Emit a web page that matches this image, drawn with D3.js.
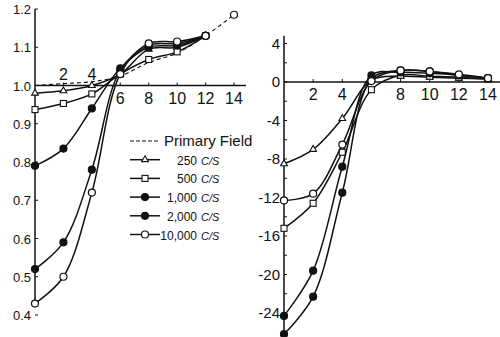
<!DOCTYPE html>
<html>
<head>
<meta charset="utf-8">
<script src="https://cdn.jsdelivr.net/npm/d3@7"></script>
<style>
  body { margin: 0; background: #fff; }
  text { font-family: "Liberation Sans", Arial, sans-serif; fill: #111; }
</style>
</head>
<body>
<div id="chart"></div>
<script>
// distances (x values)
var xs = [0, 2, 4, 6, 8, 10, 12];
var xsR = [0, 2, 4, 6, 8, 10, 12, 14];

// left panel: amplitude ratio
var primaryX = [0, 2, 4, 6, 8, 10, 12, 14];
var primary = [1.0, 1.005, 1.01, 1.025, 1.06, 1.085, 1.13, 1.185];
var amp250 = [0.98, 0.986, 1.0, 1.03, 1.095, 1.10, 1.13];
var amp500 = [0.937, 0.953, 0.978, 1.03, 1.068, 1.088, 1.13];
var amp1000 = [0.79, 0.835, 0.94, 1.045, 1.10, 1.105, 1.13];
var amp2000 = [0.52, 0.59, 0.78, 1.04, 1.105, 1.11, 1.13];
var amp10000 = [0.43, 0.50, 0.72, 1.03, 1.11, 1.115, 1.13];

// right panel: phase (degrees)
var ph250 = [-8.5, -7, -3.8, 0.2, 0.6, 0.5, 0.4, 0.3];
var ph500 = [-15.2, -12.6, -7.3, -0.8, 0.7, 0.6, 0.5, 0.3];
var ph1000 = [-24.3, -19.6, -8.8, 0.7, 1.0, 0.9, 0.7, 0.4];
var ph2000 = [-26.2, -22.3, -11.5, 0.3, 1.2, 1.1, 0.7, 0.4];
var ph10000 = [-12.3, -11.6, -6.5, 0.1, 1.2, 1.1, 0.8, 0.4];

var seriesNames = ["250", "500", "1,000", "2,000", "10,000"];
var markers = ["triangle", "square", "filled", "filled", "open"];

var leftTicks = [0.4, 0.5, 0.6, 0.7, 0.8, 0.9, 1.0, 1.1, 1.2];
var leftXTicks = [2, 4, 6, 8, 10, 12, 14];
var rightTicks = [4, 0, -4, -8, -12, -16, -20, -24];
var rightXTicks = [2, 4, 8, 10, 12, 14];

var width = 500, height = 337;
var svg = d3.select("#chart").append("svg")
    .attr("width", width)
    .attr("height", height);

// scales
var xL = d3.scaleLinear().domain([0, 14]).range([35, 234]);
var yL = d3.scaleLinear().domain([0.4, 1.2]).range([315, 9]);
var xR = d3.scaleLinear().domain([0, 14]).range([284, 488]);
var yR = d3.scaleLinear().domain([-24, 4]).range([313, 43.5]);

var lineStroke = "#111";

function drawMarker(g, type, cx, cy) {
    if (type == "triangle") {
        g.append("path")
            .attr("d", d3.symbol().type(d3.symbolTriangle).size(20)())
            .attr("transform", "translate(" + cx + "," + cy + ")")
            .attr("fill", "#fff").attr("stroke", lineStroke).attr("stroke-width", 1.1);
    } else if (type == "square") {
        g.append("rect")
            .attr("x", cx - 3).attr("y", cy - 3)
            .attr("width", 6).attr("height", 6)
            .attr("fill", "#fff").attr("stroke", lineStroke).attr("stroke-width", 1.1);
    } else {
        g.append("circle")
            .attr("cx", cx).attr("cy", cy).attr("r", 3.5)
            .attr("fill", type == "filled" ? lineStroke : "#fff")
            .attr("stroke", lineStroke).attr("stroke-width", 1.2);
    }
}

function drawSeries(g, xv, yv, x, y, type) {
    var pts = xv.map(function(d, i) { return [d, yv[i]]; });
    var line = d3.line()
        .x(function(d) { return x(d[0]); })
        .y(function(d) { return y(d[1]); })
        .curve(d3.curveCatmullRom.alpha(0.5));
    g.append("path")
        .attr("d", line(pts))
        .attr("fill", "none")
        .attr("stroke", lineStroke)
        .attr("stroke-width", 1.5);
    pts.forEach(function(p) { drawMarker(g, type, x(p[0]), y(p[1])); });
}

// ---------- Left panel ----------
var gL = svg.append("g");

// axes lines
gL.append("line").attr("x1", xL(0)).attr("x2", 246)
    .attr("y1", yL(1.0)).attr("y2", yL(1.0))
    .attr("stroke", lineStroke).attr("stroke-width", 1.5);
gL.append("line").attr("x1", xL(0)).attr("x2", xL(0))
    .attr("y1", yL(1.2)).attr("y2", yL(0.42))
    .attr("stroke", lineStroke).attr("stroke-width", 1.5);

// y ticks + labels
gL.selectAll(".ytick").data(leftTicks).enter().append("line")
    .attr("x1", xL(0)).attr("x2", xL(0) + 3)
    .attr("y1", function(d) { return yL(d); })
    .attr("y2", function(d) { return yL(d); })
    .attr("stroke", lineStroke).attr("stroke-width", 1);
gL.selectAll(".ylab").data(leftTicks).enter().append("text")
    .attr("x", 31)
    .attr("y", function(d) { return yL(d) + 5; })
    .attr("text-anchor", "end")
    .style("font-size", "13px")
    .text(function(d) { return d.toFixed(1); });

// x ticks + labels
gL.selectAll(".xtick").data(leftXTicks).enter().append("line")
    .attr("x1", function(d) { return xL(d); })
    .attr("x2", function(d) { return xL(d); })
    .attr("y1", yL(1.0)).attr("y2", yL(1.0) - 3)
    .attr("stroke", lineStroke).attr("stroke-width", 1);
gL.selectAll(".xlab").data(leftXTicks).enter().append("text")
    .attr("x", function(d) { return xL(d); })
    .attr("y", function(d) { return d < 6 ? yL(1.0) - 6 : yL(1.0) + 18; })
    .attr("text-anchor", "middle")
    .style("font-size", "16px")
    .text(function(d) { return d; });

// primary field (dashed)
var primaryPts = primaryX.map(function(d, i) { return [d, primary[i]]; });
gL.append("path")
    .attr("d", d3.line()
        .x(function(d) { return xL(d[0]); })
        .y(function(d) { return yL(d[1]); })
        .curve(d3.curveCatmullRom.alpha(0.5))(primaryPts))
    .attr("fill", "none")
    .attr("stroke", lineStroke)
    .attr("stroke-width", 1.1)
    .attr("stroke-dasharray", "4,3");
drawMarker(gL, "open", xL(primaryX[primaryX.length - 1]), yL(primary[primary.length - 1]));

var ampSeries = [amp250, amp500, amp1000, amp2000, amp10000];
ampSeries.forEach(function(s, i) { drawSeries(gL, xs, s, xL, yL, markers[i]); });

// legend
var legY0 = 141, legStep = 18.7;
var leg = svg.append("g");
leg.append("line").attr("x1", 130).attr("x2", 160)
    .attr("y1", legY0).attr("y2", legY0)
    .attr("stroke", lineStroke).attr("stroke-width", 1.1)
    .attr("stroke-dasharray", "4,2");
leg.append("text").attr("x", 164).attr("y", legY0 + 5)
    .style("font-size", "15px").text("Primary Field");
seriesNames.forEach(function(n, i) {
    var yy = legY0 + legStep * (i + 1);
    leg.append("line").attr("x1", 130).attr("x2", 160)
        .attr("y1", yy).attr("y2", yy)
        .attr("stroke", lineStroke).attr("stroke-width", 1.5);
    drawMarker(leg, markers[i], 145, yy);
    leg.append("text").attr("x", 197).attr("y", yy + 5)
        .attr("text-anchor", "end")
        .style("font-size", "12px").text(n);
    leg.append("text").attr("x", 201).attr("y", yy + 5)
        .style("font-size", "11px").style("font-style", "italic").text("C/S");
});

// ---------- Right panel ----------
var gR = svg.append("g");
gR.append("line").attr("x1", xR(0)).attr("x2", 500)
    .attr("y1", yR(0)).attr("y2", yR(0))
    .attr("stroke", lineStroke).attr("stroke-width", 1.5);
gR.append("line").attr("x1", xR(0)).attr("x2", xR(0))
    .attr("y1", yR(4.8)).attr("y2", yR(-26.8))
    .attr("stroke", lineStroke).attr("stroke-width", 1.5);

var minorR = d3.range(-26, 5, 2);
gR.selectAll(".ytick").data(minorR).enter().append("line")
    .attr("x1", xR(0)).attr("x2", xR(0) + 3)
    .attr("y1", function(d) { return yR(d); })
    .attr("y2", function(d) { return yR(d); })
    .attr("stroke", lineStroke).attr("stroke-width", 1);
gR.selectAll(".ylab").data(rightTicks).enter().append("text")
    .attr("x", 280)
    .attr("y", function(d) { return yR(d) + 5; })
    .attr("text-anchor", "end")
    .style("font-size", "15px")
    .text(function(d) { return d < 0 ? "-" + Math.abs(d) : d; });

gR.selectAll(".xtick").data(d3.range(2, 15, 2)).enter().append("line")
    .attr("x1", function(d) { return xR(d); })
    .attr("x2", function(d) { return xR(d); })
    .attr("y1", yR(0)).attr("y2", yR(0) - 3)
    .attr("stroke", lineStroke).attr("stroke-width", 1);
gR.selectAll(".xlab").data(rightXTicks).enter().append("text")
    .attr("x", function(d) { return xR(d); })
    .attr("y", yR(0) + 18)
    .attr("text-anchor", "middle")
    .style("font-size", "16px")
    .text(function(d) { return d; });

var phSeries = [ph250, ph500, ph1000, ph2000, ph10000];
phSeries.forEach(function(s, i) { drawSeries(gR, xsR, s, xR, yR, markers[i]); });
</script>
</body>
</html>
